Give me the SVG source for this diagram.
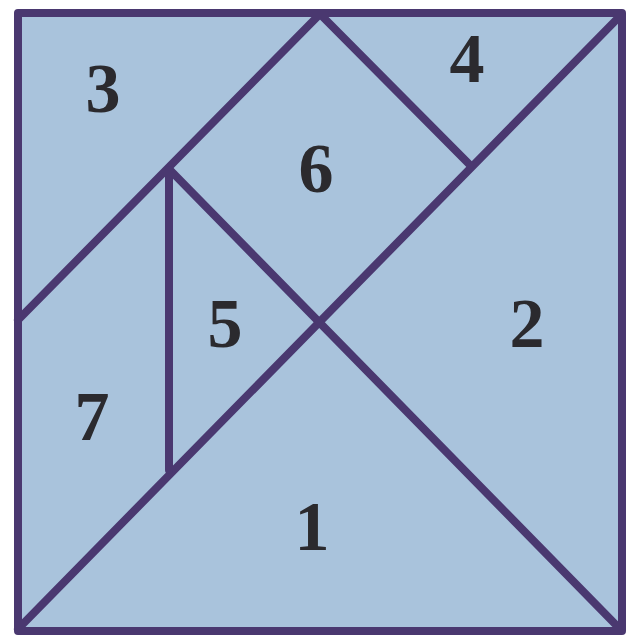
<svg xmlns="http://www.w3.org/2000/svg" width="630" height="639" viewBox="0 0 630 639">
<style>
.edge{stroke:#4a3870;stroke-width:8;fill:none;stroke-linecap:round;stroke-linejoin:round}
.lbl{font-family:"Liberation Serif","DejaVu Serif",serif;font-weight:bold;font-size:70px;fill:#2b2a2e;text-anchor:middle}
</style>
<rect width="630" height="639" fill="#ffffff"/>
<rect x="18" y="13" width="604" height="618" fill="#a9c3dc"/>
<g id="connectors">
<line class="edge" x1="18" y1="629" x2="621" y2="15"/>
<line class="edge" x1="170" y1="170" x2="620" y2="629"/>
<line class="edge" x1="18" y1="320" x2="320" y2="14"/>
<line class="edge" x1="320" y1="14" x2="470" y2="165"/>
<line class="edge" x1="169" y1="170" x2="169" y2="470"/>
<rect class="edge" x="18" y="13" width="604" height="618"/>
</g>
<g id="piece3"><text class="lbl" x="103" y="112">3</text></g>
<g id="piece4"><text class="lbl" x="467" y="82">4</text></g>
<g id="piece6"><text class="lbl" x="316" y="192">6</text></g>
<g id="piece5"><text class="lbl" x="225" y="347">5</text></g>
<g id="piece2"><text class="lbl" x="527" y="347">2</text></g>
<g id="piece7"><text class="lbl" x="92" y="440">7</text></g>
<g id="piece1"><text class="lbl" x="312" y="550">1</text></g>
</svg>
